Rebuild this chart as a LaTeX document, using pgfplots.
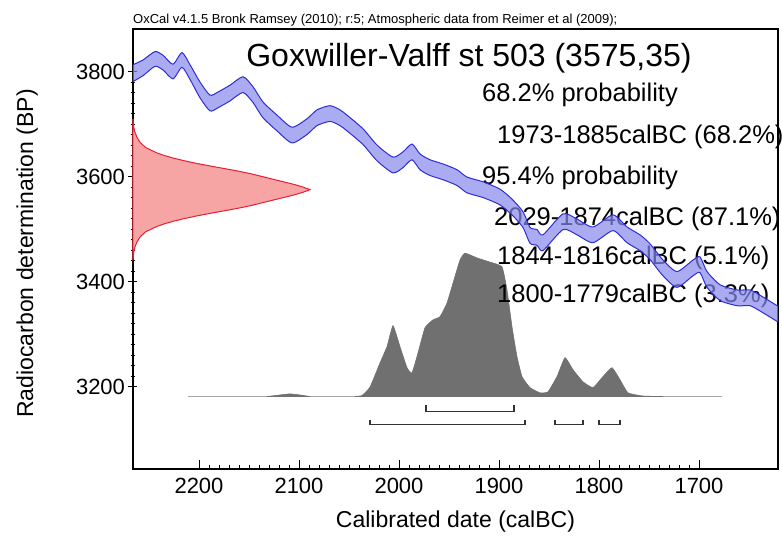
\documentclass[border=0pt]{standalone}
\usepackage{pgfplots}
\pgfplotsset{compat=1.18}
\usepackage{pgfplotstable}
\usepackage{fontspec}
\setmainfont{Liberation Sans}

\definecolor{bandfill}{RGB}{136,136,236}
\definecolor{bandline}{RGB}{45,45,215}
\definecolor{probfill}{RGB}{246,164,164}
\definecolor{probline}{RGB}{232,30,50}
\definecolor{postfill}{RGB}{112,112,112}

% calibration curve (IntCal09), centre and half width
\pgfplotstableread{
year bp err
2266 3797 16
2256 3807 15
2244 3824 14
2236 3817 14
2226 3800 14
2217 3822 14
2209 3799 14
2199 3765 15
2189 3740 15
2181 3746 15
2169 3759 15
2156 3775 15
2146 3756 15
2136 3727 15
2122 3702 15
2107 3679 15
2092 3695 15
2082 3712 15
2069 3720 15
2059 3712 15
2052 3702 15
2036 3676 15
2022 3645 15
2006 3622 15
1996 3632 15
1987 3647 15
1979 3628 15
1969 3617 15
1956 3609 15
1942 3598 15
1932 3584 15
1916 3575 15
1899 3561 15
1887 3542 15
1876 3518 15
1869 3488 15
1862 3484 15
1856 3474 15
1836 3514 15
1822 3504 15
1806 3489 15
1786 3512 15
1772 3489 15
1759 3474 15
1749 3457 15
1736 3426 15
1722 3404 15
1706 3426 15
1699 3432 15
1692 3404 15
1679 3379 15
1662 3369 15
1649 3369 15
1639 3359 15
1621 3338 15
}\calcurve

\newcommand{\fs}[1]{\fontsize{#1bp}{#1bp}\selectfont}

\begin{document}
\begin{tikzpicture}
\useasboundingbox (-133bp,-67bp) rectangle (649bp,469bp);
\begin{axis}[
    scale only axis,
    width=645bp, height=440bp,
    x dir=reverse,
    xmin=1621, xmax=2266,
    ymin=3043, ymax=3881,
    xtick={1700,1800,...,2200},
    ytick={3200,3400,3600,3800},
    minor x tick num=9,
    minor y tick num=9,
    tick pos=left,
    xtick align=inside,
    ytick align=center,
    major tick length=9bp,
    minor tick length=4.5bp,
    every tick/.style={black, line width=0.8bp},
    axis line style={line width=1.2bp},
    /pgf/number format/1000 sep={},
    /pgf/number format/assume math mode=true,
    ticklabel style={font=\fs{22}},
    xticklabel style={yshift=-6bp},
    xlabel={Calibrated date (calBC)},
    ylabel={Radiocarbon determination (BP)},
    label style={font=\fs{23}},
    xlabel style={at={(axis description cs:0.5,-0.12)}, anchor=center},
    ylabel style={at={(axis description cs:-0.164,0.49)}, anchor=center},
    clip=false,
]

% measured radiocarbon date 3575 +/- 35
\addplot[fill=probfill, draw=probline, line width=1bp] coordinates {
(2266,3710)(2265.3,3695)(2264.2,3685)(2262.1,3675)(2258.9,3665)(2253.1,3655)
(2242.1,3645)(2234.5,3640)(2225.3,3635)(2214.5,3630)(2202.3,3625)(2188.5,3620)
(2174.0,3615)(2159.8,3610)(2147.4,3605)(2136.8,3600)(2126.2,3595)(2115.5,3590)
(2104.9,3585)(2096.1,3580)(2089,3575)
(2096.1,3570)(2104.9,3565)(2115.5,3560)(2126.2,3555)(2136.8,3550)(2147.4,3545)
(2159.8,3540)(2174.0,3535)(2188.5,3530)(2202.3,3525)(2214.5,3520)(2225.3,3515)
(2234.5,3510)(2242.1,3505)(2253.1,3495)(2258.9,3485)(2262.1,3475)(2264.2,3465)
(2265.3,3455)(2266,3440)
} -- cycle;

% posterior
\addplot[gray!70, line width=1bp] coordinates {(2211,3181)(1677,3181)};
\addplot[fill=postfill, draw=postfill, line width=0.6bp, smooth, tension=0.3] coordinates {
(2132,3181)(2119,3184)(2109,3186)(2099,3184)(2089,3181)
} -- cycle;
\addplot[fill=postfill, draw=postfill, line width=0.6bp, smooth, tension=0.25] coordinates {
(2044,3181)(2037,3183)(2029,3199)(2019,3245)(2012,3276)(2006,3316)(1999,3276)
(1992,3236)(1987,3226)(1981,3264)(1974,3312)(1966,3327)(1959,3333)(1952,3359)
(1946,3397)(1939,3441)(1934,3454)(1922,3445)(1909,3437)(1897,3428)(1892,3384)
(1887,3314)(1882,3257)(1877,3219)(1869,3198)(1859,3188)(1851,3190)(1842,3219)
(1834,3255)(1826,3232)(1816,3209)(1806,3198)(1796,3219)(1787,3236)(1779,3213)
(1771,3188)(1756,3182)(1736,3181)
} -- cycle;

% ranges
\addplot[black!80, line width=1.1bp] coordinates {(1973,3165)(1973,3153)(1885,3153)(1885,3165)};
\addplot[black!80, line width=1.1bp] coordinates {(2029,3137)(2029,3128)(1874,3128)(1874,3137)};
\addplot[black!80, line width=1.1bp] coordinates {(1844,3137)(1844,3128)(1816,3128)(1816,3137)};
\addplot[black!80, line width=1.1bp] coordinates {(1800,3137)(1800,3128)(1779,3128)(1779,3137)};

% texts
\node[anchor=base west, font=\fs{13}, inner sep=0pt] at (axis description cs:0,1.0114)
  {OxCal v4.1.5 Bronk Ramsey (2010); r:5; Atmospheric data from Reimer et al (2009);};
\node[anchor=base, font=\fs{32}, inner sep=0pt] at (axis description cs:0.5209,0.9159)
  {Goxwiller-Valff st 503 (3575,35)};
\node[anchor=base west, font=\fs{25.5}, inner sep=0pt] at (axis description cs:0.5411,0.8341) {68.2\% probability};
\node[anchor=base west, font=\fs{25.5}, inner sep=0pt] at (axis description cs:0.5643,0.7409) {1973-1885calBC (68.2\%)};
\node[anchor=base west, font=\fs{25.5}, inner sep=0pt] at (axis description cs:0.5411,0.6477) {95.4\% probability};
\node[anchor=base west, font=\fs{25.5}, inner sep=0pt] at (axis description cs:0.5597,0.5545) {2029-1874calBC (87.1\%)};
\node[anchor=base west, font=\fs{25.5}, inner sep=0pt] at (axis description cs:0.5643,0.4659) {1844-1816calBC (5.1\%)};
\node[anchor=base west, font=\fs{25.5}, inner sep=0pt] at (axis description cs:0.5643,0.3773) {1800-1779calBC (3.3\%)};

% calibration curve band
\addplot[draw=none, smooth, tension=0.4, stack plots=y, forget plot] table[x=year, y expr=\thisrow{bp}-\thisrow{err}] {\calcurve};
\addplot[fill=bandfill, fill opacity=0.7, draw=none, smooth, tension=0.4, stack plots=y] table[x=year, y expr=2*\thisrow{err}] {\calcurve} \closedcycle;
\addplot[bandline, line width=1bp, smooth, tension=0.4] table[x=year, y expr=\thisrow{bp}+\thisrow{err}] {\calcurve};
\addplot[bandline, line width=1bp, smooth, tension=0.4] table[x=year, y expr=\thisrow{bp}-\thisrow{err}] {\calcurve};

\end{axis}
\end{tikzpicture}
\end{document}
